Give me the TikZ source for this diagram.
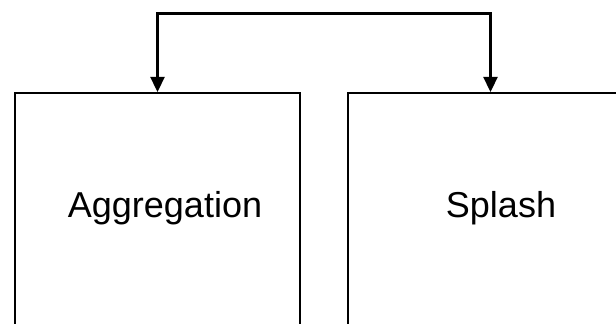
\documentclass[tikz,border=0pt]{standalone}
\usepackage{fontspec}
\setmainfont{Liberation Sans}
\usetikzlibrary{arrows.meta}
\begin{document}
\begin{tikzpicture}[x=1pt,y=1pt,
  block/.style={draw=black, line width=2.3pt, rectangle, minimum width=285pt, minimum height=300pt, inner sep=0pt},
  label/.style={font=\fontsize{36}{40}\selectfont, inner sep=0pt, anchor=base},
  link/.style={draw=black, line width=2.3pt, {Triangle[length=15pt,width=14pt]}-{Triangle[length=15pt,width=14pt]}}]
  \useasboundingbox (0,0) rectangle (616,324);
  \clip (0,0) rectangle (616,324);
  % two blocks, running off the lower edge
  \node[block, anchor=north] (agg) at (157.5,232) {};
  \node[block, anchor=north] (spl) at (490.5,232) {};
  \node[label] (aggtext) at (165,106) {Aggregation};
  \node[label] (spltext) at (501,106) {Splash};
  % shared connector over the top
  \coordinate (bend) at (324,310.5);
  \draw[link] (agg.north) |- (bend) -| (spl.north);
\end{tikzpicture}
\end{document}
